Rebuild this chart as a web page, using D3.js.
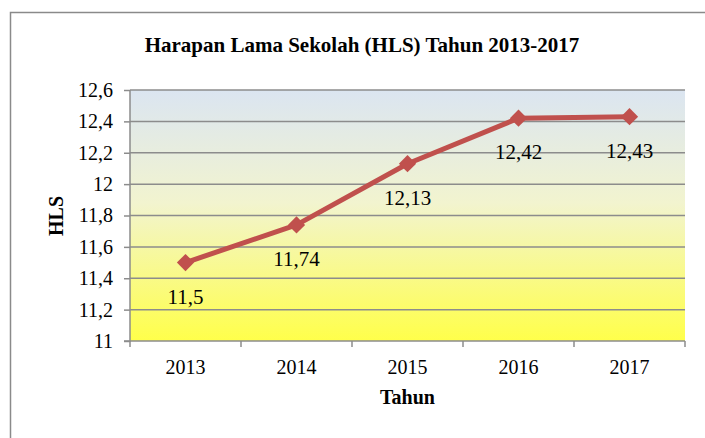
<!DOCTYPE html>
<html lang="id">
<head>
    <meta charset="UTF-8">
    <title>HLS 2013-2017</title>
    <script src="https://d3js.org/d3.v7.min.js"></script>
    <style>
        body { margin: 0; background: #fff; }
        svg text { font-family: "Times New Roman", "Liberation Serif", Tinos, "DejaVu Serif", serif; }
    </style>
</head>
<body>
    <svg width="705" height="438"></svg>

    <script>
        // data
        const years = ["2013", "2014", "2015", "2016", "2017"];
        const hls = [11.5, 11.74, 12.13, 12.42, 12.43];
        const labels = ["11,5", "11,74", "12,13", "12,42", "12,43"];
        const yTicks = [11, 11.2, 11.4, 11.6, 11.8, 12, 12.2, 12.4, 12.6];

        const svg = d3.select("svg");
        const margin = { left: 130, right: 20, top: 90, bottom: 97 };
        const W = 705, H = 438;

        // outer frame (only top and left edges show)
        svg.append("path")
            .attr("d", "M10.5,438 V12.5 H705")
            .attr("fill", "none")
            .attr("stroke", "#8a8a8a")
            .attr("stroke-width", 1.5);

        const x = d3.scaleBand()
            .domain(years)
            .range([margin.left, W - margin.right]);

        const y = d3.scaleLinear()
            .domain([11, 12.6])
            .range([H - margin.bottom, margin.top]);

        // plot background gradient
        const grad = svg.append("defs").append("linearGradient")
            .attr("id", "bg")
            .attr("x1", 0).attr("y1", 0).attr("x2", 0).attr("y2", 1);
        grad.append("stop").attr("offset", "0%").attr("stop-color", "#dbe5f1");
        grad.append("stop").attr("offset", "45%").attr("stop-color", "#f2f4cf");
        grad.append("stop").attr("offset", "100%").attr("stop-color", "#ffff4a");

        svg.append("rect")
            .attr("x", margin.left)
            .attr("y", margin.top)
            .attr("width", W - margin.right - margin.left)
            .attr("height", H - margin.bottom - margin.top)
            .attr("fill", "url(#bg)");

        // gridlines
        svg.append("g")
            .selectAll("line")
            .data(yTicks.slice(1))
            .enter()
            .append("line")
            .attr("x1", margin.left)
            .attr("x2", W - margin.right)
            .attr("y1", d => y(d))
            .attr("y2", d => y(d))
            .attr("stroke", "#8c8c8c")
            .attr("stroke-width", 1.5);

        // y axis
        const yAxis = svg.append("g")
            .attr("transform", `translate(${margin.left},0)`)
            .call(d3.axisLeft(y)
                .tickValues(yTicks)
                .tickSize(6)
                .tickPadding(11)
                .tickFormat(d => d3.format("~g")(d).replace(".", ",")));
        yAxis.attr("font-family", null);
        yAxis.selectAll("line, path").attr("stroke", "#8c8c8c").attr("stroke-width", 1.5);
        yAxis.select("path").attr("d", `M-6,${y(11)}H0V${y(12.6)}`);
        yAxis.selectAll("text")
            .attr("font-size", 20)
            .attr("fill", "#000");

        // x axis
        const xAxis = svg.append("g")
            .attr("transform", `translate(0,${y(11)})`)
            .call(d3.axisBottom(x).tickSize(0).tickPadding(19));
        xAxis.attr("font-family", null);
        xAxis.select("path").attr("stroke", "#8c8c8c").attr("stroke-width", 1.5)
            .attr("d", `M${margin.left},0H${W - margin.right}`);
        xAxis.selectAll("text")
            .attr("font-size", 20)
            .attr("fill", "#000");
        // tick marks on category boundaries
        const edges = years.map(d => x(d)).concat([x(years[years.length - 1]) + x.bandwidth()]);
        xAxis.selectAll(".edge")
            .data(edges)
            .enter()
            .append("line")
            .attr("x1", d => d).attr("x2", d => d)
            .attr("y1", 0).attr("y2", 6)
            .attr("stroke", "#8c8c8c")
            .attr("stroke-width", 1.5);

        const cx = d => x(d) + x.bandwidth() / 2;

        // line
        const line = d3.line()
            .x((d, i) => cx(years[i]))
            .y(d => y(d));

        svg.append("path")
            .datum(hls)
            .attr("d", line)
            .attr("fill", "none")
            .attr("stroke", "#c0504d")
            .attr("stroke-width", 5)
            .attr("stroke-linejoin", "round");

        // diamond markers
        svg.append("g")
            .selectAll("path")
            .data(hls)
            .enter()
            .append("path")
            .attr("d", d3.symbol().type(d3.symbolDiamond2).size(190))
            .attr("transform", (d, i) => `translate(${cx(years[i])},${y(d)})`)
            .attr("fill", "#c0504d");

        // data labels
        svg.append("g")
            .selectAll("text")
            .data(hls)
            .enter()
            .append("text")
            .attr("x", (d, i) => cx(years[i]))
            .attr("y", d => y(d) + 41)
            .attr("text-anchor", "middle")
            .attr("font-size", 21)
            .text((d, i) => labels[i]);

        // titles
        svg.append("text")
            .attr("x", 362)
            .attr("y", 52)
            .attr("text-anchor", "middle")
            .attr("font-size", 21)
            .attr("font-weight", "bold")
            .text("Harapan Lama Sekolah (HLS) Tahun 2013-2017");

        svg.append("text")
            .attr("x", (margin.left + W - margin.right) / 2)
            .attr("y", 404)
            .attr("text-anchor", "middle")
            .attr("font-size", 20)
            .attr("font-weight", "bold")
            .text("Tahun");

        svg.append("text")
            .attr("transform", `translate(63,216) rotate(-90)`)
            .attr("text-anchor", "middle")
            .attr("font-size", 20)
            .attr("font-weight", "bold")
            .text("HLS");
    </script>
</body>
</html>
